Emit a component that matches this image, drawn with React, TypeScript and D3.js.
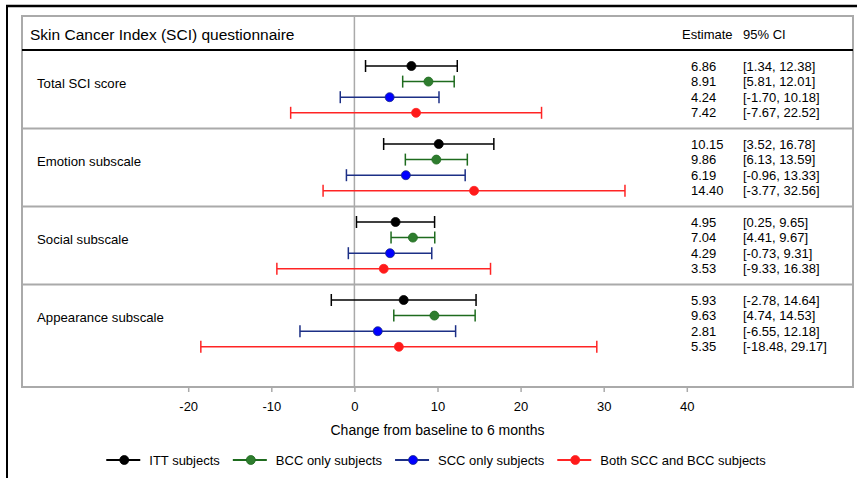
import * as d3 from 'd3';
import React, { useEffect, useRef } from 'react';

// rows of the table
const scales = ['Total SCI score', 'Emotion subscale', 'Social subscale', 'Appearance subscale'];
const seriesNames = ['ITT subjects', 'BCC only subjects', 'SCC only subjects', 'Both SCC and BCC subjects'];
const lineColors = ['#000000', '#1e6b1e', '#1c2f86', '#ff2424'];
const dotColors = ['#000000', '#2e7d2e', '#0000ff', '#ff1a1a'];

// estimates and 95% CI per series, in order of the scales
const ittEst = [6.86, 10.15, 4.95, 5.93];
const ittLo = [1.34, 3.52, 0.25, -2.78];
const ittHi = [12.38, 16.78, 9.65, 14.64];
const bccEst = [8.91, 9.86, 7.04, 9.63];
const bccLo = [5.81, 6.13, 4.41, 4.74];
const bccHi = [12.01, 13.59, 9.67, 14.53];
const sccEst = [4.24, 6.19, 4.29, 2.81];
const sccLo = [-1.70, -0.96, -0.73, -6.55];
const sccHi = [10.18, 13.33, 9.31, 12.18];
const bothEst = [7.42, 14.40, 3.53, 5.35];
const bothLo = [-7.67, -3.77, -9.33, -18.48];
const bothHi = [22.52, 32.56, 16.38, 29.17];

const xTicks = [-20, -10, 0, 10, 20, 30, 40];

const FONT = '"Liberation Sans", Arial, sans-serif';

export default function App() {
  const svgRef = useRef(null);

  useEffect(() => {
    const svg = d3.select(svgRef.current);
    svg.selectAll('*').remove();

    const left = 22, right = 853, top = 16, headerBottom = 50, bottom = 387;
    const x = d3.scaleLinear().domain([-40, 60]).range([left, right]);
    // each scale takes 5 slots: 4 estimates and a blank one
    const y = d3.scaleLinear().domain([0, 1]).range([66, 81.6]);

    const est = [ittEst, bccEst, sccEst, bothEst];
    const lo = [ittLo, bccLo, sccLo, bothLo];
    const hi = [ittHi, bccHi, sccHi, bothHi];
    const data = [];
    scales.forEach((s, g) => {
      seriesNames.forEach((n, k) => {
        data.push({ g, k, slot: g * 5 + k, est: est[k][g], lo: lo[k][g], hi: hi[k][g] });
      });
    });

    // outer black frame (cut off on right and bottom)
    svg.append('line').attr('x1', 6).attr('x2', 857).attr('y1', 6).attr('y2', 6)
      .attr('stroke', '#000').attr('stroke-width', 2.5);
    svg.append('line').attr('x1', 7).attr('x2', 7).attr('y1', 5).attr('y2', 478)
      .attr('stroke', '#000').attr('stroke-width', 2);

    // separators between scales
    scales.slice(1).forEach((s, i) => {
      const yy = y((i + 1) * 5 - 1);
      svg.append('line').attr('x1', left).attr('x2', right).attr('y1', yy).attr('y2', yy)
        .attr('stroke', '#aaaaaa').attr('stroke-width', 2);
    });

    // zero reference line
    svg.append('line').attr('x1', x(0)).attr('x2', x(0)).attr('y1', top).attr('y2', bottom)
      .attr('stroke', '#aaaaaa').attr('stroke-width', 1.5);

    // panel border
    svg.append('rect').attr('x', left).attr('y', top).attr('width', right - left).attr('height', bottom - top)
      .attr('fill', 'none').attr('stroke', '#aaaaaa').attr('stroke-width', 2);

    // header line
    svg.append('line').attr('x1', left).attr('x2', right).attr('y1', headerBottom).attr('y2', headerBottom)
      .attr('stroke', '#000').attr('stroke-width', 2);

    const txt = svg.append('g').attr('font-family', FONT).attr('fill', '#000');
    txt.append('text').attr('x', 30).attr('y', 39.5).attr('font-size', 15.5).text('Skin Cancer Index (SCI) questionnaire');
    txt.append('text').attr('x', 682).attr('y', 38.5).attr('font-size', 13).text('Estimate');
    txt.append('text').attr('x', 743).attr('y', 38.5).attr('font-size', 13).text('95% CI');

    scales.forEach((s, g) => {
      txt.append('text').attr('x', 37).attr('y', y(g * 5 + 1.1)).attr('dy', '0.35em')
        .attr('font-size', 13.2).text(s);
    });

    // CI bars
    const bars = svg.append('g').selectAll('g.ci').data(data).enter().append('g').attr('class', 'ci');
    bars.append('line')
      .attr('x1', d => x(d.lo)).attr('x2', d => x(d.hi))
      .attr('y1', d => y(d.slot)).attr('y2', d => y(d.slot))
      .attr('stroke', d => lineColors[d.k]).attr('stroke-width', 1.5);
    bars.append('line')
      .attr('x1', d => x(d.lo)).attr('x2', d => x(d.lo))
      .attr('y1', d => y(d.slot) - 6).attr('y2', d => y(d.slot) + 6)
      .attr('stroke', d => lineColors[d.k]).attr('stroke-width', 1.5);
    bars.append('line')
      .attr('x1', d => x(d.hi)).attr('x2', d => x(d.hi))
      .attr('y1', d => y(d.slot) - 6).attr('y2', d => y(d.slot) + 6)
      .attr('stroke', d => lineColors[d.k]).attr('stroke-width', 1.5);
    bars.append('circle')
      .attr('cx', d => x(d.est)).attr('cy', d => y(d.slot)).attr('r', 4.5)
      .attr('fill', d => dotColors[d.k]).attr('stroke', d => lineColors[d.k]).attr('stroke-width', 0.8);

    // estimate and CI columns
    txt.selectAll('text.est').data(data).enter().append('text').attr('class', 'est')
      .attr('x', 691).attr('y', d => y(d.slot)).attr('dy', '0.35em').attr('font-size', 13)
      .text(d => d.est.toFixed(2));
    txt.selectAll('text.ci').data(data).enter().append('text').attr('class', 'ci')
      .attr('x', 743).attr('y', d => y(d.slot)).attr('dy', '0.35em').attr('font-size', 13)
      .text(d => `[${d.lo.toFixed(2)}, ${d.hi.toFixed(2)}]`);

    // x axis
    const axis = svg.append('g').attr('transform', `translate(0,${bottom})`)
      .call(d3.axisBottom(x).tickValues(xTicks).tickSize(5).tickSizeOuter(0).tickPadding(10)
        .tickFormat(d => String(d)));
    axis.select('.domain').remove();
    axis.selectAll('line').attr('stroke', '#aaaaaa').attr('stroke-width', 1.5);
    axis.selectAll('text').attr('font-family', FONT).attr('font-size', 13).attr('fill', '#000');
    txt.append('text').attr('x', (left + right) / 2).attr('y', 435).attr('text-anchor', 'middle')
      .attr('font-size', 14).text('Change from baseline to 6 months');

    // legend
    const legend = svg.append('g').attr('font-family', FONT);
    let cx = 0;
    const items = [];
    seriesNames.forEach((n, k) => {
      const item = legend.append('g');
      item.append('line').attr('x1', 0).attr('x2', 34).attr('y1', 0).attr('y2', 0)
        .attr('stroke', lineColors[k]).attr('stroke-width', 2);
      item.append('circle').attr('cx', 18).attr('cy', 0).attr('r', 4.5)
        .attr('fill', dotColors[k]).attr('stroke', lineColors[k]).attr('stroke-width', 0.8);
      const t = item.append('text').attr('x', 43).attr('y', 0).attr('dy', '0.35em')
        .attr('font-size', 13).text(n);
      const w = 43 + t.node().getComputedTextLength();
      items.push({ item, start: cx });
      cx += w + 13;
    });
    const total = cx - 13;
    const startX = 436 - total / 2;
    items.forEach(({ item, start }) => item.attr('transform', `translate(${startX + start},460)`));
  }, []);

  return (
    <svg ref={svgRef} width={857} height={478}
      style={{ position: 'absolute', left: 0, top: 0, background: '#fff' }} />
  );
}
